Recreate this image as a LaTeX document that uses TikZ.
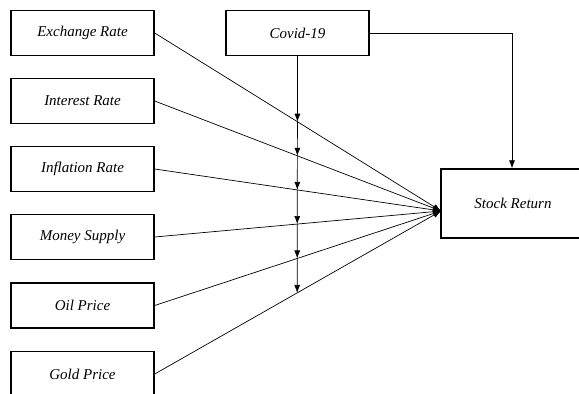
\documentclass[tikz,border=0pt]{standalone}
\usepackage{fontspec}
\setmainfont{Liberation Serif}
\usetikzlibrary{arrows.meta}
\begin{document}
\begin{tikzpicture}[x=1pt,y=-1pt,
  box/.style={draw,line width=1.4pt,minimum width=143pt,minimum height=45pt,inner sep=0pt,font=\fontsize{15}{17}\selectfont\itshape},
  thin/.style={line width=0.7pt},
  tip/.style={-{Latex[length=8pt,width=6pt]}},
]
\useasboundingbox (0,0) rectangle (579,394);
\node[box] (ex)  at (82.5,33)  {Exchange Rate};
\node[box] (ir)  at (82.5,101) {Interest Rate};
\node[box] (inf) at (82.5,169) {Inflation Rate};
\node[box] (ms)  at (82.5,237) {Money Supply};
\node[box] (oil) at (82.5,305.5) {Oil Price};
\node[box] (gold) at (82.5,374) {Gold Price};
\node[box] (cov) at (297.5,33) {Covid-19};
\node[box,minimum width=144pt,minimum height=69pt] (sr) at (513,203.5) {Stock Return};
\coordinate (conv) at (441,211);
\coordinate (bend) at (512,33);
\coordinate (vbot) at (297,400);
\foreach \s in {ex,ir,inf,ms,oil,gold}
  \draw[thin,tip] (\s.east) -- (conv);
\coordinate (p1) at (intersection of ex.east--conv and cov.south--vbot);
\coordinate (p2) at (intersection of ir.east--conv and cov.south--vbot);
\coordinate (p3) at (intersection of inf.east--conv and cov.south--vbot);
\coordinate (p4) at (intersection of ms.east--conv and cov.south--vbot);
\coordinate (p5) at (intersection of oil.east--conv and cov.south--vbot);
\coordinate (p6) at (intersection of gold.east--conv and cov.south--vbot);
\draw[thin,tip] (cov.south) -- (p1);
\draw[thin,tip] (p1) -- (p2);
\draw[thin,tip] (p2) -- (p3);
\draw[thin,tip] (p3) -- (p4);
\draw[thin,tip] (p4) -- (p5);
\draw[thin,tip] (p5) -- (p6);
\draw[thin,tip] (cov.east) -- (bend) -- (sr.north -| bend);
\end{tikzpicture}
\end{document}
